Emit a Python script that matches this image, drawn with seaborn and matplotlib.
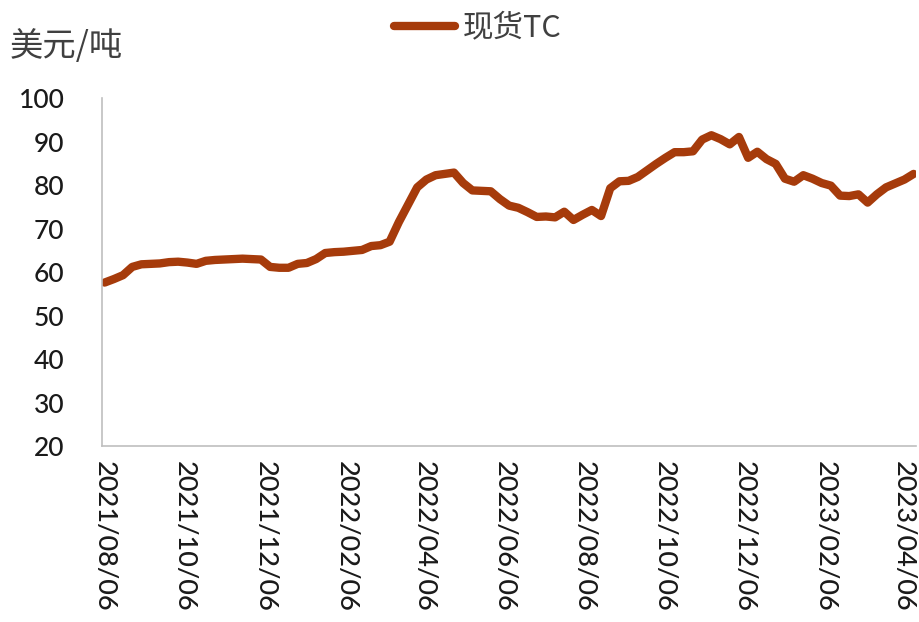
import numpy as np
import pandas as pd
import matplotlib
matplotlib.use("Agg")
import matplotlib.pyplot as plt
import matplotlib.dates as mdates
import seaborn as sns

# weekly spot TC, USD/t
start_date = "2021-08-06"
tc_values = [
    57.6, 58.4, 59.3, 61.2, 61.8, 61.9, 62.0, 62.3, 62.4, 62.2,
    61.9, 62.6, 62.8, 62.9, 63.0, 63.1, 63.0, 62.9, 61.2, 61.0,
    61.0, 61.9, 62.1, 63.0, 64.4, 64.6, 64.7, 64.9, 65.1, 66.0,
    66.2, 67.0, 71.5, 75.5, 79.5, 81.3, 82.3, 82.6, 82.9, 80.5,
    78.8, 78.7, 78.6, 76.8, 75.3, 74.8, 73.8, 72.7, 72.8, 72.6,
    73.9, 72.0, 73.2, 74.3, 72.9, 79.3, 80.9, 81.0, 81.9, 83.4,
    84.9, 86.3, 87.6, 87.6, 87.8, 90.5, 91.5, 90.6, 89.4, 91.1,
    86.3, 87.7, 86.0, 84.9, 81.5, 80.8, 82.3, 81.5, 80.5, 79.9,
    77.6, 77.5, 77.9, 76.0, 77.9, 79.5, 80.4, 81.3, 82.6,
]
series_name = "现货TC"
unit_label = "美元/吨"
y_ticks = [20, 30, 40, 50, 60, 70, 80, 90, 100]
tick_dates = ["2021-08-06", "2021-10-06", "2021-12-06", "2022-02-06",
              "2022-04-06", "2022-06-06", "2022-08-06", "2022-10-06",
              "2022-12-06", "2023-02-06", "2023-04-06"]

dates = pd.date_range(start_date, periods=len(tc_values), freq="7D")
df = pd.DataFrame({"date": dates, "tc": tc_values})

sns.set_style("white")
plt.rcParams["font.family"] = ["Lato", "Noto Sans CJK SC", "DejaVu Sans"]

line_color = "#A63B0B"
axis_color = "#BFBFBF"
text_color = "#404040"
cjk = ["Noto Sans CJK SC", "DejaVu Sans"]

fig = plt.figure(figsize=(9.19, 6.22), dpi=100)
ax = fig.add_axes([0.111, 0.283, 0.886, 0.559])

sns.lineplot(data=df, x="date", y="tc", ax=ax, color=line_color,
             linewidth=6, label=series_name, legend=False,
             solid_capstyle="round", solid_joinstyle="round")

ax.set_ylim(20, 100)
ax.set_yticks(y_ticks)
ax.set_xlim(dates[0] - pd.Timedelta(days=2), dates[-1] + pd.Timedelta(days=2))
ax.set_xticks(pd.to_datetime(tick_dates))
ax.xaxis.set_major_formatter(mdates.DateFormatter("%Y/%m/%d"))

ax.set_xlabel("")
ax.set_ylabel("")
for side in ["top", "right"]:
    ax.spines[side].set_visible(False)
for side in ["left", "bottom"]:
    ax.spines[side].set_color(axis_color)
    ax.spines[side].set_linewidth(1.2)

ax.tick_params(axis="y", length=5, width=1.2, color=axis_color,
               labelsize=19, labelcolor="#1a1a1a", pad=22, direction="out")
ax.tick_params(axis="x", length=6, width=1.2, color=axis_color,
               labelsize=19.5, labelcolor="#1a1a1a", pad=5, direction="out",
               labelrotation=-90)
for lbl in ax.get_xticklabels() + ax.get_yticklabels():
    lbl.set_fontweight("medium")

fig.text(0.011, 0.926, unit_label, fontsize=24, color=text_color,
         va="center", ha="left", family=cjk)

handles, labels = ax.get_legend_handles_labels()
leg = fig.legend(handles, [series_name], loc="center",
                 bbox_to_anchor=(0.52, 0.955), frameon=False,
                 handlelength=2.0, handletextpad=0.25,
                 prop={"family": cjk, "size": 22})
for t in leg.get_texts():
    t.set_color(text_color)

fig.savefig("out.png", dpi=100)
